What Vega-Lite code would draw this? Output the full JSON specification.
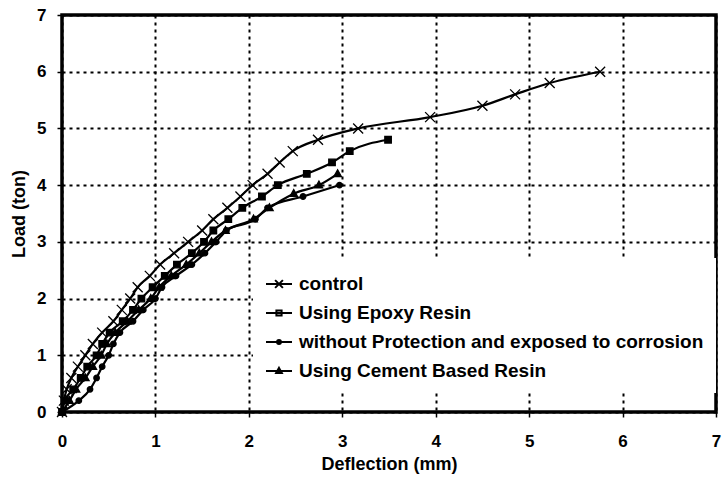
{
  "$schema": "https://vega.github.io/schema/vega-lite/v6.json",
  "width": 654,
  "height": 397,
  "autosize": "none",
  "padding": {"left": 62, "top": 15, "right": 10, "bottom": 69},
  "background": "white",
  "config": {
    "font": "Liberation Sans",
    "view": {"stroke": "black", "strokeWidth": 3.5},
    "axis": {
      "domain": false,
      "grid": true,
      "gridColor": "black",
      "gridDash": [3, 4],
      "gridWidth": 2,
      "gridOpacity": 1,
      "tickColor": "black",
      "tickWidth": 1.5,
      "labelFont": "Liberation Sans",
      "labelFontWeight": "bold",
      "labelFontSize": 17,
      "labelColor": "black",
      "titleFont": "Liberation Sans",
      "titleFontWeight": "bold",
      "titleFontSize": 18,
      "titleColor": "black"
    }
  },
  "data": {
    "values": [
      {"series": "control", "x": 0, "y": 0},
      {"series": "control", "x": 0.02, "y": 0.2},
      {"series": "control", "x": 0.05, "y": 0.4},
      {"series": "control", "x": 0.10, "y": 0.6},
      {"series": "control", "x": 0.17, "y": 0.8},
      {"series": "control", "x": 0.25, "y": 1.0},
      {"series": "control", "x": 0.33, "y": 1.2},
      {"series": "control", "x": 0.43, "y": 1.4},
      {"series": "control", "x": 0.55, "y": 1.6},
      {"series": "control", "x": 0.64, "y": 1.8},
      {"series": "control", "x": 0.73, "y": 2.0},
      {"series": "control", "x": 0.81, "y": 2.2},
      {"series": "control", "x": 0.94, "y": 2.4},
      {"series": "control", "x": 1.05, "y": 2.6},
      {"series": "control", "x": 1.2, "y": 2.8},
      {"series": "control", "x": 1.35, "y": 3.0},
      {"series": "control", "x": 1.5, "y": 3.2},
      {"series": "control", "x": 1.62, "y": 3.4},
      {"series": "control", "x": 1.77, "y": 3.6},
      {"series": "control", "x": 1.91, "y": 3.8},
      {"series": "control", "x": 2.04, "y": 4.0},
      {"series": "control", "x": 2.2, "y": 4.2},
      {"series": "control", "x": 2.33, "y": 4.4},
      {"series": "control", "x": 2.47, "y": 4.6},
      {"series": "control", "x": 2.74, "y": 4.8},
      {"series": "control", "x": 3.17, "y": 5.0},
      {"series": "control", "x": 3.94, "y": 5.2},
      {"series": "control", "x": 4.5, "y": 5.4},
      {"series": "control", "x": 4.85, "y": 5.6},
      {"series": "control", "x": 5.22, "y": 5.8},
      {"series": "control", "x": 5.76, "y": 6.0},
      {"series": "Using Epoxy Resin", "x": 0, "y": 0},
      {"series": "Using Epoxy Resin", "x": 0.03, "y": 0.2},
      {"series": "Using Epoxy Resin", "x": 0.12, "y": 0.4},
      {"series": "Using Epoxy Resin", "x": 0.2, "y": 0.6},
      {"series": "Using Epoxy Resin", "x": 0.27, "y": 0.8},
      {"series": "Using Epoxy Resin", "x": 0.37, "y": 1.0},
      {"series": "Using Epoxy Resin", "x": 0.43, "y": 1.2},
      {"series": "Using Epoxy Resin", "x": 0.51, "y": 1.4},
      {"series": "Using Epoxy Resin", "x": 0.65, "y": 1.6},
      {"series": "Using Epoxy Resin", "x": 0.76, "y": 1.8},
      {"series": "Using Epoxy Resin", "x": 0.85, "y": 2.0},
      {"series": "Using Epoxy Resin", "x": 0.97, "y": 2.2},
      {"series": "Using Epoxy Resin", "x": 1.10, "y": 2.4},
      {"series": "Using Epoxy Resin", "x": 1.23, "y": 2.6},
      {"series": "Using Epoxy Resin", "x": 1.39, "y": 2.8},
      {"series": "Using Epoxy Resin", "x": 1.52, "y": 3.0},
      {"series": "Using Epoxy Resin", "x": 1.62, "y": 3.2},
      {"series": "Using Epoxy Resin", "x": 1.78, "y": 3.4},
      {"series": "Using Epoxy Resin", "x": 1.93, "y": 3.6},
      {"series": "Using Epoxy Resin", "x": 2.14, "y": 3.8},
      {"series": "Using Epoxy Resin", "x": 2.31, "y": 4.0},
      {"series": "Using Epoxy Resin", "x": 2.62, "y": 4.2},
      {"series": "Using Epoxy Resin", "x": 2.89, "y": 4.4},
      {"series": "Using Epoxy Resin", "x": 3.08, "y": 4.6},
      {"series": "Using Epoxy Resin", "x": 3.49, "y": 4.8},
      {"series": "without Protection and exposed to corrosion", "x": 0, "y": 0},
      {"series": "without Protection and exposed to corrosion", "x": 0.18, "y": 0.2},
      {"series": "without Protection and exposed to corrosion", "x": 0.30, "y": 0.4},
      {"series": "without Protection and exposed to corrosion", "x": 0.37, "y": 0.6},
      {"series": "without Protection and exposed to corrosion", "x": 0.43, "y": 0.8},
      {"series": "without Protection and exposed to corrosion", "x": 0.5, "y": 1.0},
      {"series": "without Protection and exposed to corrosion", "x": 0.55, "y": 1.2},
      {"series": "without Protection and exposed to corrosion", "x": 0.62, "y": 1.4},
      {"series": "without Protection and exposed to corrosion", "x": 0.76, "y": 1.6},
      {"series": "without Protection and exposed to corrosion", "x": 0.87, "y": 1.8},
      {"series": "without Protection and exposed to corrosion", "x": 1.0, "y": 2.0},
      {"series": "without Protection and exposed to corrosion", "x": 1.07, "y": 2.2},
      {"series": "without Protection and exposed to corrosion", "x": 1.22, "y": 2.4},
      {"series": "without Protection and exposed to corrosion", "x": 1.39, "y": 2.6},
      {"series": "without Protection and exposed to corrosion", "x": 1.53, "y": 2.8},
      {"series": "without Protection and exposed to corrosion", "x": 1.65, "y": 3.0},
      {"series": "without Protection and exposed to corrosion", "x": 1.76, "y": 3.2},
      {"series": "without Protection and exposed to corrosion", "x": 2.07, "y": 3.4},
      {"series": "without Protection and exposed to corrosion", "x": 2.2, "y": 3.6},
      {"series": "without Protection and exposed to corrosion", "x": 2.58, "y": 3.8},
      {"series": "without Protection and exposed to corrosion", "x": 2.97, "y": 4.0},
      {"series": "Using Cement Based Resin", "x": 0, "y": 0},
      {"series": "Using Cement Based Resin", "x": 0.08, "y": 0.2},
      {"series": "Using Cement Based Resin", "x": 0.15, "y": 0.4},
      {"series": "Using Cement Based Resin", "x": 0.25, "y": 0.6},
      {"series": "Using Cement Based Resin", "x": 0.33, "y": 0.8},
      {"series": "Using Cement Based Resin", "x": 0.42, "y": 1.0},
      {"series": "Using Cement Based Resin", "x": 0.48, "y": 1.2},
      {"series": "Using Cement Based Resin", "x": 0.57, "y": 1.4},
      {"series": "Using Cement Based Resin", "x": 0.7, "y": 1.6},
      {"series": "Using Cement Based Resin", "x": 0.82, "y": 1.8},
      {"series": "Using Cement Based Resin", "x": 0.95, "y": 2.0},
      {"series": "Using Cement Based Resin", "x": 1.04, "y": 2.2},
      {"series": "Using Cement Based Resin", "x": 1.17, "y": 2.4},
      {"series": "Using Cement Based Resin", "x": 1.33, "y": 2.6},
      {"series": "Using Cement Based Resin", "x": 1.47, "y": 2.8},
      {"series": "Using Cement Based Resin", "x": 1.6, "y": 3.0},
      {"series": "Using Cement Based Resin", "x": 1.75, "y": 3.2},
      {"series": "Using Cement Based Resin", "x": 2.05, "y": 3.4},
      {"series": "Using Cement Based Resin", "x": 2.22, "y": 3.6},
      {"series": "Using Cement Based Resin", "x": 2.48, "y": 3.85},
      {"series": "Using Cement Based Resin", "x": 2.75, "y": 4.0},
      {"series": "Using Cement Based Resin", "x": 2.95, "y": 4.2}
    ]
  },
  "encoding": {
    "x": {
      "field": "x",
      "type": "quantitative",
      "title": "Deflection (mm)",
      "scale": {"domain": [0, 7], "nice": false},
      "axis": {"values": [0, 1, 2, 3, 4, 5, 6, 7], "tickSize": 5, "labelPadding": 16, "titlePadding": 6, "labelFlush": false}
    },
    "y": {
      "field": "y",
      "type": "quantitative",
      "title": "Load (ton)",
      "scale": {"domain": [0, 7], "nice": false},
      "axis": {"values": [0, 1, 2, 3, 4, 5, 6, 7], "tickSize": 5, "labelPadding": 11, "titlePadding": 8, "labelFlush": false}
    }
  },
  "layer": [
    {
      "mark": {"type": "line", "color": "black", "strokeWidth": 2.2, "interpolate": "monotone"},
      "encoding": {"detail": {"field": "series", "type": "nominal"}}
    },
    {
      "mark": {"type": "point", "filled": true, "color": "black", "stroke": "black", "strokeWidth": 1.3, "size": 100, "opacity": 1},
      "encoding": {
        "shape": {
          "field": "series",
          "type": "nominal",
          "legend": null,
          "scale": {
            "domain": ["control", "Using Epoxy Resin", "without Protection and exposed to corrosion", "Using Cement Based Resin"],
            "range": [
              "M-1,-1L1,1M-1,1L1,-1",
              "M-0.65,-0.65L0.65,-0.65L0.65,0.65L-0.65,0.65Z",
              "M0.55,0A0.55,0.55,0,1,1,-0.55,0A0.55,0.55,0,1,1,0.55,0Z",
              "M0,-0.8L0.75,0.55L-0.75,0.55Z"
            ]
          }
        }
      }
    },
    {
      "mark": {"type": "point", "filled": false, "color": "black", "strokeWidth": 2, "size": 0, "opacity": 0},
      "encoding": {
        "shape": {
          "field": "series",
          "type": "nominal",
          "title": null,
          "scale": {
            "domain": ["control", "Using Epoxy Resin", "without Protection and exposed to corrosion", "Using Cement Based Resin"],
            "range": [
              "M-1,0L1,0M-0.3,-0.3L0.3,0.3M-0.3,0.3L0.3,-0.3",
              "M-1,0L1,0M-0.2,-0.2L0.2,-0.2L0.2,0.2L-0.2,0.2Z",
              "M-1,0L1,0M0.15,0A0.15,0.15,0,1,1,-0.15,0A0.15,0.15,0,1,1,0.15,0Z",
              "M-1,0L1,0M0,-0.24L0.22,0.16L-0.22,0.16Z"
            ]
          },
          "legend": {
            "orient": "none",
            "legendX": 191,
            "legendY": 243,
            "fillColor": "white",
            "padding": 12,
            "rowPadding": 5,
            "symbolSize": 676,
            "symbolOpacity": 1,
            "symbolStrokeWidth": 2,
            "symbolStrokeColor": "black",
            "symbolFillColor": "black",
            "labelFont": "Liberation Sans",
            "labelFontWeight": "bold",
            "labelFontSize": 19,
            "labelColor": "black",
            "labelOffset": 6,
            "labelLimit": 500,
            "encode": {
              "symbols": {
                "update": {
                  "fill": {"value": "black"},
                  "stroke": {"value": "black"},
                  "strokeWidth": {"value": 2},
                  "opacity": {"value": 1}
                }
              }
            }
          }
        }
      }
    }
  ],
  "resolve": {"scale": {"shape": "independent"}, "legend": {"shape": "independent"}}
}
